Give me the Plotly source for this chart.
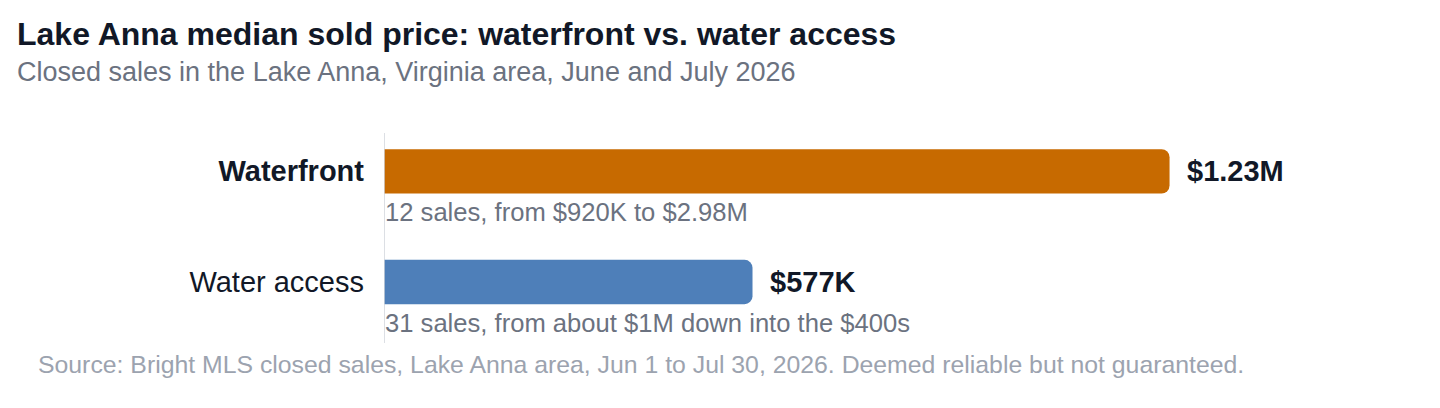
import plotly.graph_objects as go

categories = ["Waterfront", "Water access"]
tick_labels = ["<b>Waterfront</b>", "Water access"]
median_price = [1230000, 577000]
value_labels = ["$1.23M", "$577K"]
notes = ["12 sales, from $920K to $2.98M", "31 sales, from about $1M down into the $400s"]
colors = ["#c76a00", "#4e7fb9"]

title = "Lake Anna median sold price: waterfront vs. water access"
subtitle = "Closed sales in the Lake Anna, Virginia area, June and July 2026"
source = "Source: Bright MLS closed sales, Lake Anna area, Jun 1 to Jul 30, 2026. Deemed reliable but not guaranteed."

FONT = "Liberation Sans, Arial, sans-serif"
W, H = 1424, 392
L, R, T, B = 376, 90, 108, 61
pw = W - L - R
ph = H - T - B


def px_x(p):
    # figure pixel -> paper x
    return (p - L) / pw


def px_y(p):
    return (H - B - p) / ph


fig = go.Figure(go.Bar(
    x=median_price, y=categories, orientation="h",
    marker=dict(color=colors, line_width=0),
    width=0.4, hoverinfo="skip",
))

# value labels at the end of each bar
for cat, val, lab in zip(categories, median_price, value_labels):
    fig.add_annotation(x=val, y=cat, text=f"<b>{lab}</b>", showarrow=False,
                       xanchor="left", xshift=15,
                       font=dict(size=29, color="#111827", family=FONT))

# note under each bar
for cat, note in zip(categories, notes):
    fig.add_annotation(x=0, y=cat, text=note, showarrow=False,
                       xanchor="left", yanchor="middle", yshift=-41, xshift=-1,
                       font=dict(size=25.6, color="#6b7280", family=FONT))

# title block
fig.add_annotation(xref="paper", yref="paper", x=px_x(7), y=px_y(26),
                   xanchor="left", yanchor="middle", showarrow=False,
                   text=f"<b>{title}</b>",
                   font=dict(size=32, color="#111827", family=FONT))
fig.add_annotation(xref="paper", yref="paper", x=px_x(7), y=px_y(64),
                   xanchor="left", yanchor="middle", showarrow=False,
                   text=subtitle,
                   font=dict(size=27, color="#6b7280", family=FONT))
fig.add_annotation(xref="paper", yref="paper", x=px_x(28), y=px_y(356),
                   xanchor="left", yanchor="middle", showarrow=False,
                   text=source,
                   font=dict(size=24.8, color="#9ca3af", family=FONT))

# baseline
fig.add_shape(type="line", xref="x", yref="paper", x0=0, x1=0,
              y0=px_y(335), y1=px_y(125),
              line=dict(color="#d1d5db", width=1.5))

fig.update_layout(
    width=W, height=H,
    margin=dict(l=L, r=R, t=T, b=B, autoexpand=False),
    paper_bgcolor="white", plot_bgcolor="white",
    barcornerradius=8,
    showlegend=False,
    font=dict(family=FONT),
    xaxis=dict(range=[0, 1500000], visible=False, fixedrange=True),
    yaxis=dict(
        categoryorder="array", categoryarray=categories[::-1],
        tickmode="array", tickvals=categories, ticktext=tick_labels,
        showgrid=False, zeroline=False, showline=False, ticks="",
        ticklabelstandoff=19, automargin=False,
        tickfont=dict(size=29, color="#111827", family=FONT),
        fixedrange=True,
    ),
)

fig.write_html("out.html")
